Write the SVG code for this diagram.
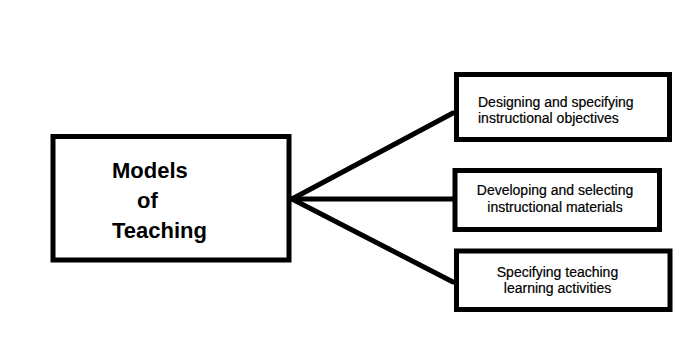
<svg xmlns="http://www.w3.org/2000/svg" width="692" height="346" viewBox="0 0 692 346">
<style>
.box{fill:#fff;stroke:#000;stroke-width:5}
.big{font-family:"Liberation Sans",Arial,sans-serif;font-size:22px;font-weight:bold;fill:#000}
.sm{font-family:"Liberation Sans",Arial,sans-serif;font-size:14px;fill:#000;stroke:#000;stroke-width:0.2}
.c{text-anchor:middle}
.con line{stroke:#000;stroke-width:5;stroke-linecap:round}
</style>
<rect width="692" height="346" fill="#fff"/>
<g id="connectors" class="con">
<line x1="292" y1="199" x2="453" y2="113"/>
<line x1="292" y1="199" x2="453" y2="199"/>
<line x1="292" y1="199" x2="453" y2="282"/>
</g>
<g id="models">
<rect class="box" x="53" y="136.5" width="236" height="123.5"/>
<text class="big" x="112" y="178">Models</text>
<text class="big" x="137" y="208">of</text>
<text class="big" x="112" y="238">Teaching</text>
</g>
<g id="designing">
<rect class="box" x="456.5" y="74.5" width="213" height="65"/>
<text class="sm" x="478" y="107">Designing and specifying</text>
<text class="sm" x="478" y="123">instructional objectives</text>
</g>
<g id="developing">
<rect class="box" x="455" y="170.5" width="204.5" height="59"/>
<text class="sm c" x="555" y="195">Developing and selecting</text>
<text class="sm c" x="555" y="212">instructional materials</text>
</g>
<g id="specifying">
<rect class="box" x="456.5" y="251" width="213.5" height="58.5"/>
<text class="sm c" x="557.5" y="277">Specifying teaching</text>
<text class="sm c" x="557.5" y="293">learning activities</text>
</g>
</svg>
